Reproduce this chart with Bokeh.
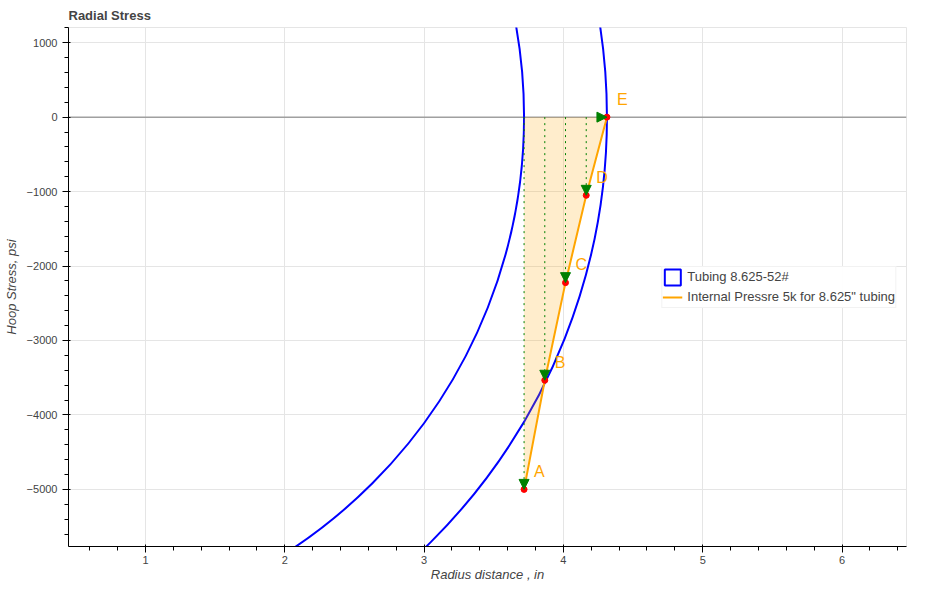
from bokeh.plotting import figure
from bokeh.models import Arrow, NormalHead, Span, Legend, LegendItem, ColumnDataSource
from bokeh.core.properties import value
from bokeh.embed import file_html
from bokeh.resources import INLINE

# Tubing geometry (in)
r_inner = 3.7175
r_outer = 4.3125

# Radial stress points A..E
labels = ["A", "B", "C", "D", "E"]
radius = [3.7175, 3.8663, 4.0150, 4.1638, 4.3125]
stress = [-5000, -3534, -2223, -1050, 0]

x_range = (0.447, 6.463)
y_range = (-5767, 1204)

p = figure(width=920, height=584, title="Radial Stress",
           x_range=x_range, y_range=y_range,
           output_backend="svg", toolbar_location=None,
           min_border_left=60, min_border_right=14, min_border_bottom=0)
p.title.text_font_size = "13px"
p.title.text_color = "#444444"

p.xaxis.axis_label = "Radius distance , in"
p.yaxis.axis_label = "Hoop Stress, psi"
p.xaxis.axis_label_standoff = 0
p.xaxis.major_label_standoff = 3

# zero line
p.add_layout(Span(location=0, dimension="width", line_color="#a0a0a0",
                  line_width=1.5, level="underlay"))

# tubing wall (annulus centred at origin)
p.annulus(x=[0], y=[0], inner_radius=r_inner, outer_radius=r_outer,
          fill_alpha=0, line_color="blue", line_width=2)
# legend proxy (square icon), zero-size at the annulus centre
tub_leg = p.rect(x=[0], y=[0], width=0, height=0, fill_alpha=0,
                 line_color="blue", line_width=2)

# shaded area under stress curve
px = [r_inner] + radius[::-1]
py = [0] + stress[::-1]
p.patch(px, py, fill_color="orange", fill_alpha=0.2, line_alpha=0)

# vertical dotted arrows
for xi, yi in zip(radius[:-1], stress[:-1]):
    p.add_layout(Arrow(end=NormalHead(size=10, fill_color="green", line_color="green"),
                       x_start=xi, y_start=0, x_end=xi, y_end=yi,
                       line_color="green", line_dash="dotted", line_width=1))
# horizontal arrow to E
p.add_layout(Arrow(end=NormalHead(size=10, fill_color="green", line_color="green"),
                   x_start=r_inner, y_start=0, x_end=radius[-1], y_end=stress[-1],
                   line_alpha=0))

ln = p.line(radius, stress, line_color="orange", line_width=2)
p.scatter(radius, stress, size=6, color="red")

src = ColumnDataSource(dict(x=radius, y=stress, t=labels))
p.text(x="x", y="y", text="t", source=src, x_offset=10, y_offset=-18,
       text_baseline="middle", text_color="orange",
       text_font=value("Liberation Sans"), text_font_size="16px")

legend = Legend(items=[LegendItem(label="Tubing 8.625-52#", renderers=[tub_leg]),
                       LegendItem(label='Internal Pressre 5k for 8.625" tubing', renderers=[ln])],
                location="center_right", padding=0, spacing=0, margin=10,
                label_standoff=5, glyph_width=20, glyph_height=20, label_height=20,
                label_text_font_size="13px", label_text_color="#444444",
                border_line_color="#e5e5e5")
p.add_layout(legend)

open("out.html", "w").write(file_html(p, INLINE))
